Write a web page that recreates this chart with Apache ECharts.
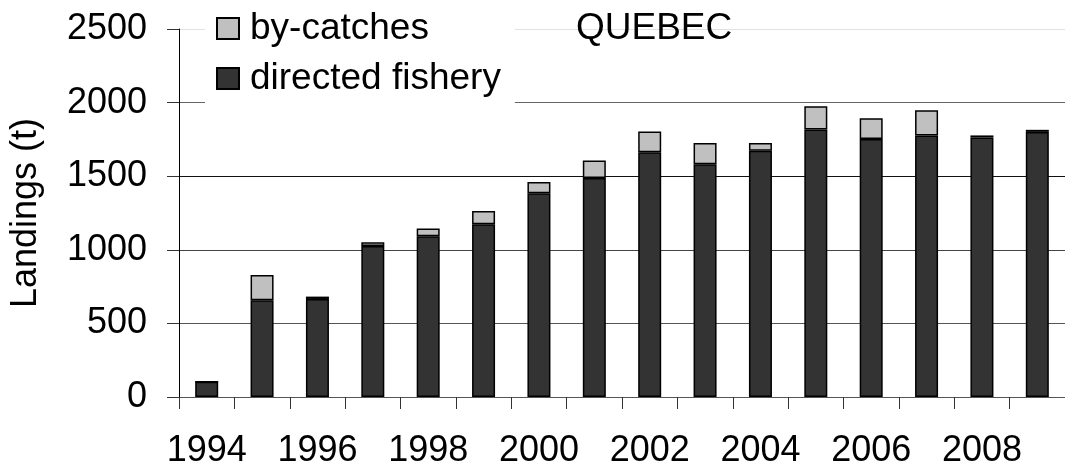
<!DOCTYPE html>
<html>
<head>
<meta charset="utf-8">
<script src="https://cdn.jsdelivr.net/npm/echarts@6/dist/echarts.min.js"></script>
<style>
  html, body { margin: 0; padding: 0; background: #fff; }
  #chart { width: 1065px; height: 469px; }
</style>
</head>
<body>
<div id="chart"></div>
<script>
// Quebec landings by year, split into directed fishery and by-catches (t)
const years = ['1994','1995','1996','1997','1998','1999','2000','2001',
               '2002','2003','2004','2005','2006','2007','2008','2009'];
const directedFishery = [103, 657, 666, 1025, 1092, 1173, 1385, 1488,
                         1662, 1581, 1673, 1817, 1752, 1777, 1763, 1801];
const byCatches = [0, 171, 16, 26, 52, 90, 76, 118,
                   142, 144, 52, 158, 142, 171, 14, 14];
const yTicks = [0, 500, 1000, 1500, 2000, 2500];

const FONT = '"Liberation Sans", Arial, sans-serif';

const chart = echarts.init(document.getElementById('chart'), null, { renderer: 'canvas' });

chart.setOption({
  animation: false,
  backgroundColor: '#ffffff',
  title: {
    text: 'QUEBEC',
    left: 576,
    top: 10,
    padding: 0,
    textStyle: { fontFamily: FONT, fontSize: 37, fontWeight: 'normal', color: '#000' }
  },
  legend: {
    data: ['by-catches', 'directed fishery'],
    orient: 'vertical',
    left: 205,
    top: 2,
    padding: [8, 14, 8, 11],
    itemGap: 13,
    itemWidth: 22,
    itemHeight: 21,
    icon: 'rect',
    backgroundColor: '#ffffff',
    textStyle: { fontFamily: FONT, fontSize: 37, lineHeight: 37, color: '#000',
                 padding: [0, 0, 0, 6] }
  },
  grid: { left: 179, top: 29, width: 892, height: 370, containLabel: false },
  xAxis: {
    type: 'category',
    data: years,
    boundaryGap: true,
    axisLine: { show: true, lineStyle: { color: '#555', width: 1 } },
    axisTick: { show: true, interval: 0, length: 12, lineStyle: { color: '#333' } },
    axisLabel: { interval: 1, fontFamily: FONT, fontSize: 36, color: '#000', margin: 36 }
  },
  yAxis: {
    type: 'value',
    min: yTicks[0],
    max: yTicks[yTicks.length - 1],
    interval: 500,
    name: 'Landings (t)',
    nameLocation: 'middle',
    nameGap: 135,
    nameTextStyle: { fontFamily: FONT, fontSize: 36, color: '#000' },
    axisLine: { show: true, lineStyle: { color: '#000', width: 1 } },
    axisTick: { show: true, length: 12, lineStyle: { color: '#333' } },
    axisLabel: { fontFamily: FONT, fontSize: 36, color: '#000', margin: 32,
                 formatter: v => String(v) },
    splitLine: {
      show: true,
      lineStyle: { color: ['#555', '#555', '#444', '#111', '#666', '#e2e2e2'], width: 1 }
    }
  },
  series: [
    {
      name: 'directed fishery',
      type: 'bar',
      stack: 'total',
      barWidth: 23,
      data: directedFishery,
      itemStyle: { color: '#333333', borderColor: '#000', borderWidth: 1.5 }
    },
    {
      name: 'by-catches',
      type: 'bar',
      stack: 'total',
      barWidth: 23,
      data: byCatches,
      itemStyle: { color: '#c0c0c0', borderColor: '#000', borderWidth: 1.5 }
    }
  ]
});
</script>
</body>
</html>
